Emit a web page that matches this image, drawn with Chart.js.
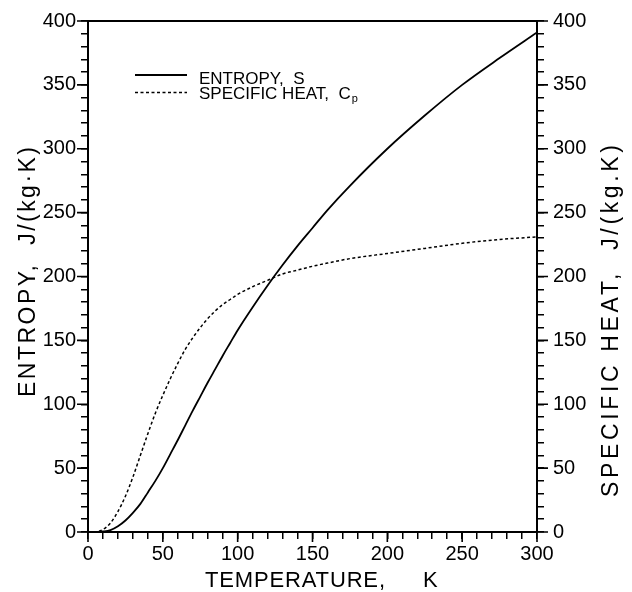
<!DOCTYPE html>
<html><head><meta charset="utf-8">
<script src="https://cdn.jsdelivr.net/npm/chart.js@4.4.1/dist/chart.umd.min.js"></script>
<style>html,body{margin:0;padding:0;background:#fff}#wrap{width:632px;height:592px}</style>
</head><body><div id="wrap"><canvas id="c" width="632" height="592"></canvas></div>
<script>
// ---- data ----
const temperature  = [0, 5, 10, 15, 20, 25, 30, 35, 40, 45, 50, 55, 60, 65, 70, 75, 80, 85, 90, 95, 100, 110, 120, 130, 140, 150, 160, 175, 200, 225, 250, 275, 300];
const entropy      = [0, 0, 0.4, 1.5, 4.5, 9, 15, 22, 31, 40, 50, 61, 72, 83.5, 95, 106, 117, 127.5, 138, 148, 158, 176, 193, 209, 224, 238, 252, 271, 300, 326, 350, 371, 391];
const specificHeat = [0, 0.2, 2, 7, 16, 28, 43, 60, 77, 93, 107, 120, 132, 143, 152, 160, 167, 173, 178, 182, 186, 192, 197, 202, 205, 208, 210.5, 214, 218, 222, 226, 229, 231];
const xTickLabels  = [0, 50, 100, 150, 200, 250, 300];
const yTickLabels  = [0, 50, 100, 150, 200, 250, 300, 350, 400];
const seriesNames  = ['ENTROPY,  S', 'SPECIFIC HEAT,  C'];
const xTitle = ['TEMPERATURE,', 'K'];
const yLeftTitle  = 'ENTROPY,  J/(kg·K)';
const yRightTitle = 'SPECIFIC HEAT,  J/(kg.K)';

const FONT = '"Liberation Sans", Arial, Helvetica, sans-serif';
const toPts = ys => temperature.map((t, i) => ({x: t, y: ys[i]}));

function fitText(ctx, text, x, y, width) {
  ctx.letterSpacing = '0px';
  const w0 = ctx.measureText(text).width;
  const s = (width - w0) / Math.max(1, text.length - 1);
  ctx.letterSpacing = s + 'px';
  ctx.textAlign = 'left';
  ctx.fillText(text, x, y);
  ctx.letterSpacing = '0px';
}

const decor = {
  id: 'decor',
  afterDraw(chart) {
    const ctx = chart.ctx, a = chart.chartArea;
    const sx = chart.scales.x, sy = chart.scales.y, sy2 = chart.scales.y2;
    ctx.save();
    ctx.strokeStyle = '#000'; ctx.fillStyle = '#000';
    // top frame line
    ctx.lineWidth = 2;
    ctx.beginPath(); ctx.moveTo(a.left, a.top); ctx.lineTo(a.right, a.top); ctx.stroke();
    // longer major ticks
    ctx.lineWidth = 1.6;
    ctx.beginPath();
    xTickLabels.forEach(v => { const p = sx.getPixelForValue(v); ctx.moveTo(p, a.bottom); ctx.lineTo(p, a.bottom + 10); });
    yTickLabels.forEach(v => {
      const p = sy.getPixelForValue(v); ctx.moveTo(a.left, p); ctx.lineTo(a.left - 11, p);
      const q = sy2.getPixelForValue(v); ctx.moveTo(a.right, q); ctx.lineTo(a.right + 11, q);
    });
    ctx.stroke();
    // axis titles
    ctx.textBaseline = 'alphabetic';
    ctx.font = '22px ' + FONT;
    fitText(ctx, xTitle[0], 205, 587, 180);
    ctx.fillText(xTitle[1], 423, 587);
    ctx.font = '23px ' + FONT;
    ctx.save(); ctx.translate(35, 397); ctx.rotate(-Math.PI / 2);
    fitText(ctx, yLeftTitle, 0, 0, 250); ctx.restore();
    ctx.save(); ctx.translate(618, 497); ctx.rotate(-Math.PI / 2);
    fitText(ctx, yRightTitle, 0, 0, 352); ctx.restore();
    // legend
    ctx.lineWidth = 1.8; ctx.setLineDash([]);
    ctx.beginPath(); ctx.moveTo(135, 75); ctx.lineTo(187, 75); ctx.stroke();
    ctx.lineWidth = 1.4; ctx.setLineDash([3, 2.5]);
    ctx.beginPath(); ctx.moveTo(135, 92.5); ctx.lineTo(187, 92.5); ctx.stroke();
    ctx.setLineDash([]);
    ctx.font = '17px ' + FONT; ctx.textAlign = 'left';
    ctx.fillText(seriesNames[0], 199, 84);
    ctx.fillText(seriesNames[1], 199, 99);
    const w = ctx.measureText(seriesNames[1]).width;
    ctx.font = '11px ' + FONT;
    ctx.fillText('p', 199 + w + 1, 102);
    ctx.restore();
  }
};

const axisCommon = {
  type: 'linear', min: 0,
  border: {display: true, color: '#000', width: 2},
  grid: {display: true, drawOnChartArea: false, drawTicks: true, tickLength: 7, color: '#000', lineWidth: 1.5},
  title: {display: false}
};

new Chart(document.getElementById('c'), {
  type: 'line',
  data: {
    datasets: [
      {label: seriesNames[0], data: toPts(entropy), yAxisID: 'y', borderColor: '#000', borderWidth: 1.8,
       pointRadius: 0, cubicInterpolationMode: 'monotone', fill: false},
      {label: seriesNames[1], data: toPts(specificHeat), yAxisID: 'y2', borderColor: '#000', borderWidth: 1.5,
       borderDash: [3, 2.5], pointRadius: 0, cubicInterpolationMode: 'monotone', fill: false}
    ]
  },
  options: {
    responsive: false, animation: false, devicePixelRatio: 1,
    layout: {padding: {top: 19, left: 0, right: 0, bottom: 0}},
    plugins: {legend: {display: false}, tooltip: {enabled: false}},
    scales: {
      x: Object.assign({}, axisCommon, {position: 'bottom', max: 300,
        ticks: {stepSize: 10, autoSkip: false, maxRotation: 0, padding: 3, color: '#000', font: {family: FONT, size: 20},
          callback: v => xTickLabels.includes(v) ? String(v) : ''},
        afterFit: s => { s.height = 60; }}),
      y: Object.assign({}, axisCommon, {position: 'left', max: 400,
        ticks: {stepSize: 10, autoSkip: false, padding: 5, color: '#000', font: {family: FONT, size: 20},
          callback: v => yTickLabels.includes(v) ? String(v) : ''},
        afterFit: s => { s.width = 88; }}),
      y2: Object.assign({}, axisCommon, {position: 'right', max: 400,
        ticks: {stepSize: 10, autoSkip: false, padding: 9, color: '#000', font: {family: FONT, size: 20},
          callback: v => yTickLabels.includes(v) ? String(v) : ''},
        afterFit: s => { s.width = 95; }})
    }
  },
  plugins: [decor]
});
</script></body></html>
